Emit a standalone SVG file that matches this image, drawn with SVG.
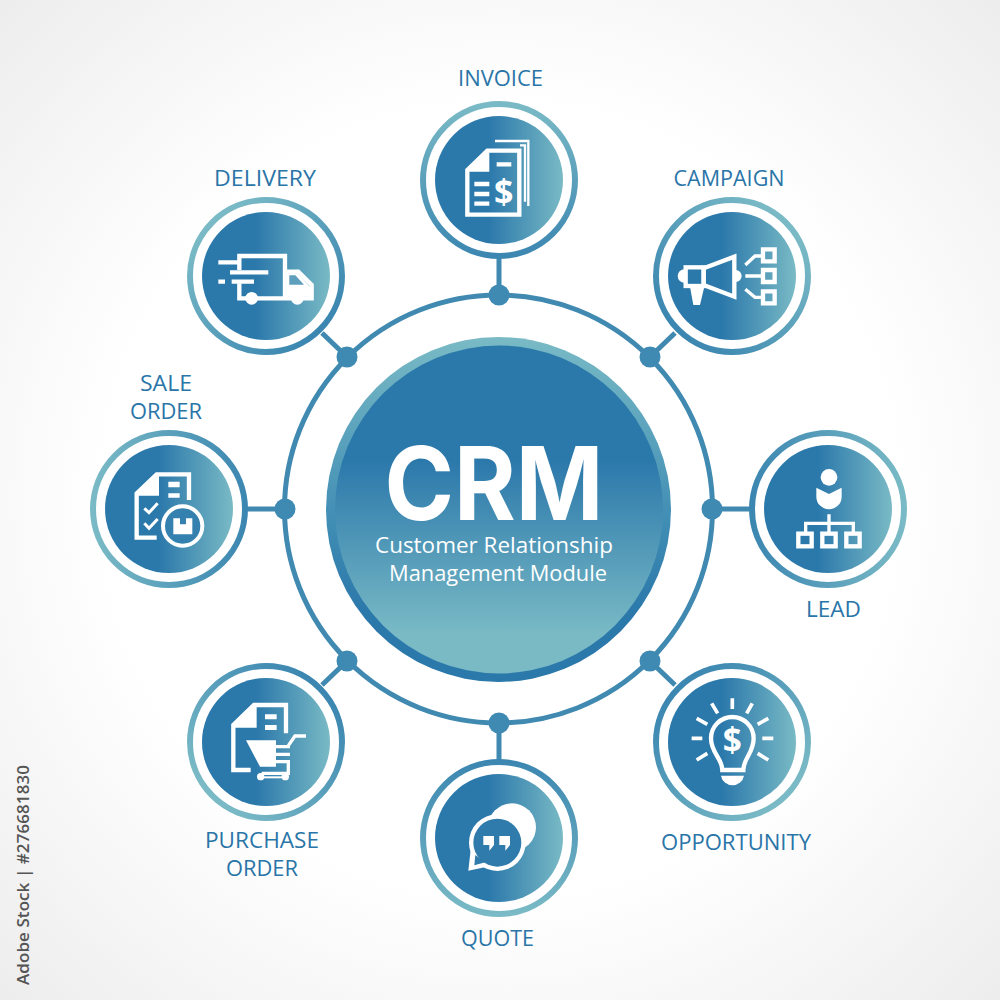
<svg xmlns="http://www.w3.org/2000/svg" xmlns:xlink="http://www.w3.org/1999/xlink" width="1000" height="1000" viewBox="0 0 1000 1000">
<style>
.lbl{font-family:"Open Sans","Liberation Sans",sans-serif;font-size:21.500px;fill:#2a75a8;text-anchor:middle;font-weight:500}
.ring{fill:none;stroke-width:6}
.disc{fill:url(#disc)}
.wire{stroke:#4089b1;stroke-width:5;fill:none}
.dot{fill:#3f8ab3}
.i{fill:none;stroke:#fff;stroke-width:13;stroke-linejoin:miter}
.f{fill:#fff}
.d{font-family:"Open Sans","Liberation Sans",sans-serif;font-weight:700;fill:#fff;text-anchor:middle}
.s{font-family:"Open Sans","Liberation Sans",sans-serif;font-weight:400;fill:#fff;text-anchor:middle;font-size:21px}
</style>
<defs>
<radialGradient id="bg" cx="50%" cy="50%" r="72%"><stop offset="0.55" stop-color="#fff"/><stop offset="1" stop-color="#ececec"/></radialGradient>
<linearGradient id="disc" x1="0" y1="0" x2="1" y2="0"><stop offset="0.42" stop-color="#2b78ab"/><stop offset="1" stop-color="#79bac5"/></linearGradient>
<linearGradient id="stops"><stop offset="0" stop-color="#7abac6"/><stop offset="1" stop-color="#3c87b1"/></linearGradient>
<linearGradient id="gN" xlink:href="#stops" x1="0.5" y1="0" x2="0.5" y2="1"/>
<linearGradient id="gS" xlink:href="#stops" x1="0.5" y1="1" x2="0.5" y2="0"/>
<linearGradient id="gW" xlink:href="#stops" x1="0" y1="0.5" x2="1" y2="0.5"/>
<linearGradient id="gE" xlink:href="#stops" x1="1" y1="0.5" x2="0" y2="0.5"/>
<linearGradient id="gNW" xlink:href="#stops" x1="0.15" y1="0.15" x2="0.85" y2="0.85"/>
<linearGradient id="gNE" xlink:href="#stops" x1="0.85" y1="0.15" x2="0.15" y2="0.85"/>
<linearGradient id="gSW" xlink:href="#stops" x1="0.15" y1="0.85" x2="0.85" y2="0.15"/>
<linearGradient id="gSE" xlink:href="#stops" x1="0.85" y1="0.85" x2="0.15" y2="0.15"/>
<linearGradient id="cRing" x1="0" y1="0" x2="0" y2="1"><stop offset="0" stop-color="#79bac5"/><stop offset="0.55" stop-color="#3f8cb4"/><stop offset="0.8" stop-color="#2b78ab"/></linearGradient>
<linearGradient id="cDisc" x1="0" y1="0" x2="0" y2="1"><stop offset="0.35" stop-color="#2b78ab"/><stop offset="0.88" stop-color="#79bac5"/></linearGradient>
</defs>
<rect width="1000" height="1000" fill="url(#bg)"/>
<text transform="translate(29,985) rotate(-90)" font-family="Open Sans, Liberation Sans, sans-serif" font-size="17" font-weight="600" fill="#555" textLength="220">Adobe Stock | #276681830</text>

<g id="connectors">
<circle class="wire" cx="498.500" cy="509" r="214"/>
<path class="wire" d="M499,258V295M322,333L347,357M675,333L650,357M247,509H285M750,509H712M322,685L347,661M675,685L650,661M499,760V723"/>
<circle class="dot" cx="499" cy="295" r="10.500"/>
<circle class="dot" cx="347" cy="357" r="10.500"/>
<circle class="dot" cx="650" cy="357" r="10.500"/>
<circle class="dot" cx="285" cy="509" r="10.500"/>
<circle class="dot" cx="712" cy="509" r="10.500"/>
<circle class="dot" cx="347" cy="661" r="10.500"/>
<circle class="dot" cx="650" cy="661" r="10.500"/>
<circle class="dot" cx="499" cy="723" r="10.500"/>
</g>

<g id="crm">
<circle cx="498.500" cy="509.500" r="172.500" fill="url(#cRing)"/>
<circle cx="499" cy="509.500" r="164" fill="url(#cDisc)"/>
<text x="494" y="520" class="d" style="font-family:Inter,'Open Sans',sans-serif" font-size="102" textLength="219" lengthAdjust="spacingAndGlyphs">CRM</text>
<text x="494" y="553" class="s" textLength="238" lengthAdjust="spacingAndGlyphs">Customer Relationship</text>
<text x="498" y="581" class="s" textLength="218" lengthAdjust="spacingAndGlyphs">Management Module</text>
</g>

<g id="invoice">
<text class="lbl" x="500.500" y="86" textLength="85" lengthAdjust="spacingAndGlyphs">INVOICE</text>
<circle class="ring" cx="499" cy="180" r="76" stroke="url(#gN)"/>
<circle class="disc" cx="499" cy="180" r="64"/>
<g transform="translate(410,60) scale(.3333)">
<path class="i" d="M172,330L232,272H328V464H172Z"/>
<path class="f" d="M172,330L232,272H238V335H172Z"/>
<path class="i" style="stroke-width:7" d="M255,243H355V438M330,256H345V425"/>
<path class="i" d="M260,313H304M193,372H238M193,402H238M193,431H238"/>
<text class="d" x="281" y="431" font-size="102">$</text>
</g>
</g>

<g id="delivery">
<text class="lbl" x="265" y="186" textLength="102" lengthAdjust="spacingAndGlyphs">DELIVERY</text>
<circle class="ring" cx="266" cy="276" r="76" stroke="url(#gNW)"/>
<circle class="disc" cx="266" cy="276" r="64"/>
<g transform="translate(180,190) scale(.3333)">
<path class="i" d="M178,240V198H315V325M178,280V325H395V285L355,245H315"/>
<path class="f" d="M320,250H352L390,290V320H320Z"/>
<path d="M328,256H346L372,284H328Z" fill="#5e9fbb"/>
<path class="i" d="M115,217H178M150,247H265M115,275H135M155,275H222"/>
<circle class="f" cx="215" cy="325" r="19"/>
<circle class="f" cx="352" cy="325" r="19"/>
</g>
</g>

<g id="campaign">
<text class="lbl" x="729" y="186" textLength="111" lengthAdjust="spacingAndGlyphs">CAMPAIGN</text>
<circle class="ring" cx="732" cy="276" r="76" stroke="url(#gNE)"/>
<circle class="disc" cx="732" cy="276" r="64"/>
<g transform="translate(645,190) scale(.3333)">
<path class="i" d="M176,235L268,200V320L176,285Z"/>
<rect class="i" x="122" y="232" width="54" height="56"/>
<path class="f" d="M118,238A20,20 0 0 0 118,278ZM272,240A18,18 0 0 1 272,276ZM135,290H178L165,345H145Z"/>
<path class="i" d="M354,178H389V214H354ZM354,240H389V276H354ZM354,304H389V340H354Z"/>
<path class="i" style="stroke-width:10" d="M301,225L330,198H352M301,258H352M301,298L330,322H352"/>
</g>
</g>

<g id="sale-order">
<text class="lbl" x="166" y="391" textLength="52" lengthAdjust="spacingAndGlyphs">SALE</text>
<text class="lbl" x="166" y="419" textLength="72" lengthAdjust="spacingAndGlyphs">ORDER</text>
<circle class="ring" cx="169" cy="509" r="76" stroke="url(#gW)"/>
<circle class="disc" cx="169" cy="509" r="64"/>
<g transform="translate(85,425) scale(.3333)">
<path class="i" d="M215,338H155V205L215,148H312V225"/>
<path class="f" d="M155,205L215,148H222V212H155Z"/>
<path class="f" d="M250,170H284V187H250ZM250,205H284V218H250Z"/>
<path class="i" style="stroke-width:9" d="M178,250L192,263L218,235M178,295L192,310L218,282"/>
<circle cx="293" cy="303" r="59" fill="#3480ae" stroke="#fff" stroke-width="12"/>
<path class="f" d="M265,280H285V298H303V280H322V328H265Z"/>
</g>
</g>

<g id="lead">
<text class="lbl" x="833.500" y="617" textLength="55" lengthAdjust="spacingAndGlyphs">LEAD</text>
<circle class="ring" cx="828" cy="509" r="76" stroke="url(#gE)"/>
<circle class="disc" cx="828" cy="509" r="64"/>
<g transform="translate(740,425) scale(.3333)">
<circle class="f" cx="267" cy="157" r="25"/>
<path class="f" d="M229,188L267,207L305,188V215A38,38 0 0 1 229,215Z"/>
<path class="i" style="stroke-width:10" d="M267,268V322M197,322V295H340V322"/>
<rect class="i" x="175" y="326" width="40" height="38"/>
<rect class="i" x="247" y="326" width="40" height="38"/>
<rect class="i" x="319" y="326" width="40" height="38"/>
</g>
</g>

<g id="purchase-order">
<text class="lbl" x="262" y="848" textLength="114" lengthAdjust="spacingAndGlyphs">PURCHASE</text>
<text class="lbl" x="262" y="876" textLength="72" lengthAdjust="spacingAndGlyphs">ORDER</text>
<circle class="ring" cx="266" cy="742" r="76" stroke="url(#gSW)"/>
<circle class="disc" cx="266" cy="742" r="64"/>
<g transform="translate(180,655) scale(.3333)">
<path class="i" d="M212,345H160V210L222,150H318V235"/>
<path class="f" d="M160,210L222,150H230V218H160Z"/>
<path class="f" d="M255,178H290V193H255ZM255,210H290V225H255Z"/>
<path class="f" d="M198,256H288V335H240Z"/>
<path class="i" style="stroke-width:10" d="M285,275H330M285,298H330M285,320H325V355H245M378,243H345L325,272"/>
<circle class="f" cx="242" cy="365" r="11"/>
<circle class="f" cx="316" cy="365" r="11"/>
<path class="i" style="stroke-width:6" d="M242,367H316"/>
</g>
</g>

<g id="opportunity">
<text class="lbl" x="736" y="850" textLength="150" lengthAdjust="spacingAndGlyphs">OPPORTUNITY</text>
<circle class="ring" cx="732" cy="742" r="76" stroke="url(#gSE)"/>
<circle class="disc" cx="732" cy="742" r="64"/>
<g transform="translate(645,655) scale(.3333)">
<path class="i" d="M232,345C232,310 198,295 198,250A64,64 0 1 1 326,250C326,295 295,310 295,345Z"/>
<path class="f" d="M228,362H297A35,35 0 0 1 228,362Z"/>
<text class="d" x="262" y="290" font-size="100">$</text>
<path class="i" style="stroke-width:11" d="M262,130V162M322,145L305,175M370,190L338,208M385,250H352M370,315L338,295M155,315L187,295M140,250H172M155,190L187,208M200,145L218,175"/>
</g>
</g>

<g id="quote">
<text class="lbl" x="497.500" y="946" textLength="73" lengthAdjust="spacingAndGlyphs">QUOTE</text>
<circle class="ring" cx="499" cy="838" r="76" stroke="url(#gS)"/>
<circle class="disc" cx="499" cy="838" r="64"/>
<g transform="translate(410,710) scale(.3333)">
<circle class="f" cx="306" cy="352" r="72"/>
<circle class="f" cx="262" cy="398" r="85"/>
<path class="f" d="M182,420L175,482L242,468Z"/>
<circle cx="262" cy="398" r="72" fill="#2f7bac"/>
<path d="M196,435L193,466L226,457Z" fill="#2f7bac"/>
<path class="f" d="M220,378H252V405L238,422V405H220ZM268,378H300V405L286,422V405H268Z"/>
</g>
</g>
</svg>
